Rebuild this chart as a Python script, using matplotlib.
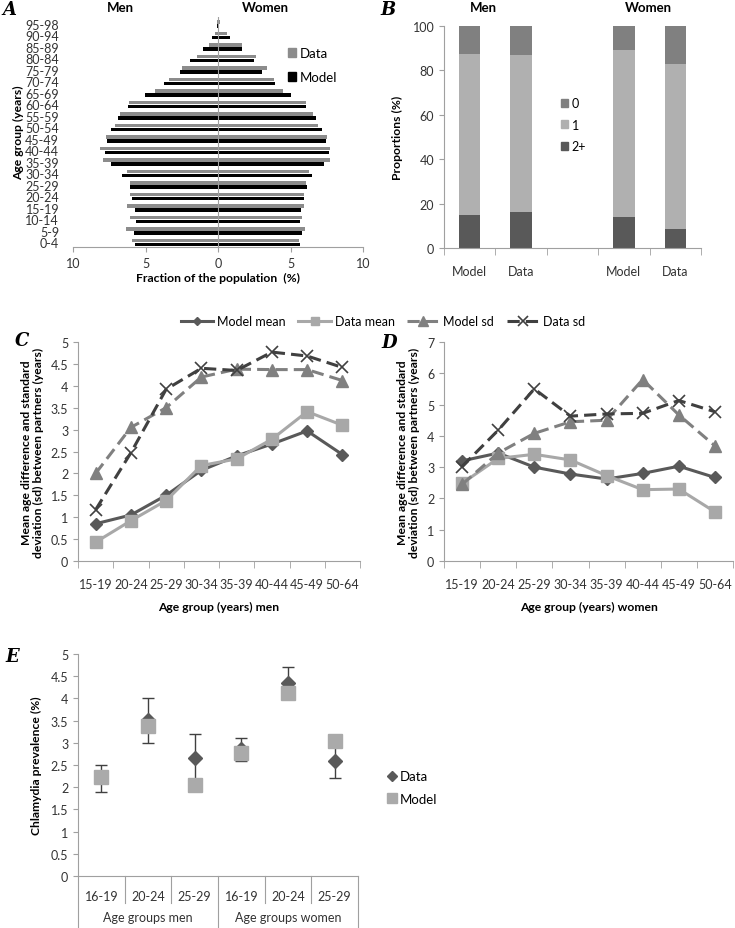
import numpy as np
import matplotlib
matplotlib.use("Agg")
import matplotlib.pyplot as plt
from matplotlib.lines import Line2D
from matplotlib.patches import Patch

plt.rcParams['font.family'] = ['Lato', 'DejaVu Sans']
plt.rcParams['font.size'] = 9

### Données
# A : pyramide des âges
age_groups = ["0-4", "5-9", "10-14", "15-19", "20-24", "25-29", "30-34", "35-39", "40-44", "45-49",
              "50-54", "55-59", "60-64", "65-69", "70-74", "75-79", "80-84", "85-89", "90-94", "95-98"]
men_data = [5.9, 6.35, 6.1, 6.3, 6.05, 6.1, 6.3, 7.9, 8.15, 7.75,
            7.1, 6.75, 6.15, 4.35, 3.35, 2.5, 1.45, 0.65, 0.2, 0.05]
men_model = [5.75, 5.8, 5.65, 5.7, 5.9, 6.05, 6.6, 7.4, 7.8, 7.65,
             7.35, 6.9, 6.2, 5.05, 3.75, 2.6, 1.9, 1.05, 0.4, 0.05]
women_data = [5.6, 6.0, 5.8, 5.95, 5.9, 6.05, 6.25, 7.7, 7.75, 7.55,
              6.9, 6.55, 6.05, 4.5, 3.85, 3.4, 2.6, 1.65, 0.6, 0.15]
women_model = [5.65, 5.8, 5.65, 5.7, 5.9, 6.15, 6.5, 7.3, 7.65, 7.45,
               7.15, 6.75, 6.05, 5.0, 3.95, 3.0, 2.5, 1.65, 0.85, 0.1]

# B : proportions (%) nombre de partenaires
b_labels = ["Model", "Data", "", "Model", "Data"]
b_pos = [0, 1, 3, 4]
b_two = [15, 16, 14, 8.5]
b_one = [72.5, 71, 75, 74.5]
b_zero = [12.5, 13, 11, 17.5]

# C / D : différence d'âge
cd_groups = ["15-19", "20-24", "25-29", "30-34", "35-39", "40-44", "45-49", "50-64"]
men_model_mean = [0.85, 1.05, 1.5, 2.07, 2.4, 2.67, 2.97, 2.43]
men_data_mean = [0.43, 0.92, 1.38, 2.18, 2.33, 2.78, 3.41, 3.1]
men_model_sd = [2.0, 3.05, 3.5, 4.2, 4.38, 4.37, 4.37, 4.12]
men_data_sd = [1.17, 2.47, 3.92, 4.4, 4.35, 4.77, 4.68, 4.42]
women_model_mean = [3.2, 3.45, 3.0, 2.78, 2.62, 2.8, 3.03, 2.67]
women_data_mean = [2.48, 3.28, 3.41, 3.23, 2.73, 2.28, 2.3, 1.57]
women_model_sd = [2.45, 3.45, 4.08, 4.45, 4.5, 5.8, 4.67, 3.68]
women_data_sd = [3.02, 4.18, 5.5, 4.63, 4.7, 4.72, 5.13, 4.77]

# E : prévalence chlamydia
e_groups = ["16-19", "20-24", "25-29", "16-19", "20-24", "25-29"]
e_data = [2.22, 3.52, 2.65, 2.87, 4.35, 2.6]
e_low = [1.9, 3.0, 2.1, 2.6, 4.0, 2.2]
e_high = [2.5, 4.0, 3.2, 3.1, 4.7, 3.0]
e_model = [2.22, 3.37, 2.05, 2.77, 4.13, 3.03]

W, H = 735, 929
fig = plt.figure(figsize=(W / 100, H / 100), dpi=100)

LAB = 8.7   # titres d'axes
TCK = 9     # graduations


def ax_px(l, t, r, b):
    return fig.add_axes([l / W, 1 - b / H, (r - l) / W, (b - t) / H])


def style(ax):
    for s in ["top", "right"]:
        ax.spines[s].set_visible(False)
    for s in ["left", "bottom"]:
        ax.spines[s].set_color("#a0a0a0")
    ax.tick_params(colors="#a0a0a0", labelcolor="#333333", labelsize=TCK)


def letter(x, y, s):
    fig.text(x / W, 1 - y / H, s, family="DejaVu Serif", style="italic",
             weight="bold", fontsize=13, va="center", ha="center")


grey_d = "#595959"
grey_m = "#808080"
grey_l = "#b0b0b0"

######## A
ax = ax_px(73, 18, 363, 248)
style(ax)
y = np.arange(len(age_groups))
h = 0.3
ax.barh(y + 0.17, [-v for v in men_data], h, color="#8c8c8c")
ax.barh(y - 0.17, [-v for v in men_model], h, color="black")
ax.barh(y + 0.17, women_data, h, color="#8c8c8c")
ax.barh(y - 0.17, women_model, h, color="black")
ax.set_xlim(-10, 10)
ax.set_ylim(-0.4, 19.6)
ax.set_yticks(y)
ax.set_yticklabels(age_groups)
ax.spines["left"].set_visible(False)
ax.tick_params(axis="y", length=0, pad=10)
ax.axvline(0, color="#a0a0a0", lw=0.8)
ax.set_xticks([-10, -5, 0, 5, 10])
ax.set_xticklabels(["10", "5", "0", "5", "10"])
ax.set_xlabel("Fraction of the population  (%)", weight="bold", fontsize=LAB, labelpad=2)
ax.set_ylabel("Age group (years)", weight="bold", fontsize=LAB, labelpad=1)
ax.legend(handles=[Patch(color="#8c8c8c", label="Data"), Patch(color="black", label="Model")],
          loc="upper left", bbox_to_anchor=(0.7, 0.92), frameon=False,
          handlelength=0.6, handleheight=0.6, handletextpad=0.3, labelspacing=0.9, fontsize=9.5)
fig.text(120 / W, 1 - 8 / H, "Men", weight="bold", fontsize=9.5, ha="center", va="center")
fig.text(265 / W, 1 - 8 / H, "Women", weight="bold", fontsize=9.5, ha="center", va="center")
letter(9, 10, "A")

######## B
ax = ax_px(444, 27, 701, 249)
style(ax)
bw = 0.42
ax.bar(b_pos, b_two, bw, color=grey_d)
ax.bar(b_pos, b_one, bw, bottom=b_two, color=grey_l)
ax.bar(b_pos, b_zero, bw, bottom=np.array(b_two) + np.array(b_one), color=grey_m)
ax.set_xlim(-0.5, 4.5)
ax.set_ylim(0, 100)
ax.set_yticks(range(0, 101, 20))
ax.set_xticks(range(5))
ax.set_xticklabels(b_labels)
ax.tick_params(axis="x", length=0, pad=12)
ax.set_xticks(np.arange(-0.5, 5, 1), minor=True)
ax.tick_params(axis="x", which="minor", length=5, color="#a0a0a0")
ax.set_ylabel("Proportions (%)", weight="bold", fontsize=LAB, labelpad=7)
ax.legend(handles=[Patch(color=grey_m, label="0"), Patch(color=grey_l, label="1"),
                   Patch(color=grey_d, label="2+")],
          loc="upper left", bbox_to_anchor=(0.41, 0.73), frameon=False,
          handlelength=0.6, handleheight=0.6, handletextpad=0.3, labelspacing=0.75, fontsize=9)
fig.text(483 / W, 1 - 8 / H, "Men", weight="bold", fontsize=9.5, ha="center", va="center")
fig.text(648 / W, 1 - 8 / H, "Women", weight="bold", fontsize=9.5, ha="center", va="center")
letter(388, 10, "B")


######## C et D
def lines(ax, mm, dm, ms, ds):
    x = np.arange(len(cd_groups))
    ax.plot(x, mm, color=grey_d, lw=2.2, marker="D", ms=6, label="Model mean")
    ax.plot(x, dm, color="#a8a8a8", lw=2.2, marker="s", ms=8, label="Data mean")
    ax.plot(x, ms, color=grey_m, lw=2.2, ls=(0, (4, 2)), marker="^", ms=9, label="Model sd")
    ax.plot(x, ds, color="#404040", lw=2.2, ls=(0, (4, 2)), marker="x", ms=9, mew=1.2, label="Data sd")
    ax.set_xlim(-0.5, 7.5)
    ax.set_xticks(x)
    ax.set_xticklabels(cd_groups)
    ax.tick_params(axis="x", length=0, pad=12)
    ax.set_xticks(np.arange(-0.5, 8, 1), minor=True)
    ax.tick_params(axis="x", which="minor", length=5, color="#a0a0a0")
    ax.set_ylabel("Mean age difference and standard\ndeviation (sd) between partners (years)",
                  weight="bold", fontsize=LAB, labelpad=5, linespacing=1.1)


ax = ax_px(78, 343, 360, 562)
style(ax)
lines(ax, men_model_mean, men_data_mean, men_model_sd, men_data_sd)
ax.set_ylim(0, 5)
ax.set_yticks(np.arange(0, 5.01, 0.5))
ax.set_yticklabels(["0", "0.5", "1", "1.5", "2", "2.5", "3", "3.5", "4", "4.5", "5"])
ax.set_xlabel("Age group (years) men", weight="bold", fontsize=LAB, labelpad=8)
letter(22, 341, "C")
handles, labels = ax.get_legend_handles_labels()
fig.legend(handles, labels, loc="center", bbox_to_anchor=(383 / W, 1 - 322 / H), ncol=4,
           frameon=False, handlelength=2.6, columnspacing=1.0, handletextpad=0.3, fontsize=9,
           markerscale=0.75)

ax = ax_px(444, 343, 733, 562)
style(ax)
lines(ax, women_model_mean, women_data_mean, women_model_sd, women_data_sd)
ax.set_ylim(0, 7)
ax.set_yticks(range(8))
ax.set_xlabel("Age group (years) women", weight="bold", fontsize=LAB, labelpad=8)
letter(389, 343, "D")

######## E
ax = ax_px(78, 655, 358, 877)
style(ax)
x = np.arange(len(e_groups))
err = [np.array(e_data) - np.array(e_low), np.array(e_high) - np.array(e_data)]
ax.errorbar(x, e_data, yerr=err, fmt="D", color=grey_d, ecolor="#404040", elinewidth=1,
            capsize=4, ms=7)
ax.plot(x, e_model, "s", color="#aaaaaa", ms=10, zorder=5)
ax.set_xlim(-0.5, 5.5)
ax.set_ylim(0, 5)
ax.set_yticks(np.arange(0, 5.01, 0.5))
ax.set_yticklabels(["0", "0.5", "1", "1.5", "2", "2.5", "3", "3.5", "4", "4.5", "5"])
ax.set_xticks(x)
ax.set_xticklabels(e_groups)
ax.tick_params(axis="x", length=0, pad=10)
ax.set_ylabel("Chlamydia prevalence (%)", weight="bold", fontsize=LAB, labelpad=6)
# séparateurs des catégories
for b in np.arange(-0.5, 6, 1):
    bottom = -0.3 if b in (-0.5, 2.5, 5.5) else -0.12
    ax.plot([b, b], [0, bottom], transform=ax.get_xaxis_transform(), color="#a0a0a0",
            lw=0.8, clip_on=False)
ax.text(1, -0.185, "Age groups men", transform=ax.get_xaxis_transform(), ha="center", va="center",
        fontsize=TCK, color="#333333")
ax.text(4, -0.185, "Age groups women", transform=ax.get_xaxis_transform(), ha="center", va="center",
        fontsize=TCK, color="#333333")
leg_e = [Line2D([], [], ls="", marker="D", color=grey_d, ms=5, label="Data"),
         Line2D([], [], ls="", marker="s", color="#aaaaaa", ms=7, label="Model")]
ax.legend(handles=leg_e, loc="upper left", bbox_to_anchor=(1.06, 0.53), frameon=False,
          handletextpad=0.2, labelspacing=0.8, fontsize=9.5, handlelength=0.8)
letter(12, 657, "E")

plt.savefig("out.png", dpi=100)
